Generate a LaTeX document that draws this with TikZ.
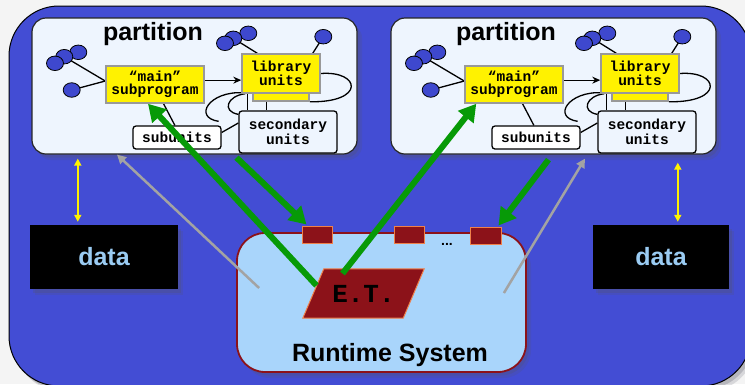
\documentclass[tikz,border=0pt]{standalone}
\usepackage{fontspec}
\setmainfont{Liberation Sans}
\setmonofont{Liberation Mono}
\usetikzlibrary{arrows.meta,calc,shapes.geometric}

\definecolor{pagebg}{HTML}{F4F4F4}
\definecolor{bgblue}{HTML}{434DD4}
\definecolor{partfill}{HTML}{EEF5FE}
\definecolor{bubblefill}{HTML}{3E48CE}
\definecolor{rtsfill}{HTML}{A9D5FB}
\definecolor{darkred}{HTML}{8C1219}
\definecolor{portedge}{HTML}{F0804A}
\definecolor{arrowgreen}{HTML}{079A07}
\definecolor{datatext}{HTML}{9ACBF2}
\definecolor{arrowgray}{HTML}{A3A3A3}
\definecolor{unitedge}{HTML}{999999}
\definecolor{shadowgray}{HTML}{555566}

\pgfdeclarelayer{back}
\pgfdeclarelayer{lines}
\pgfdeclarelayer{front}
\pgfsetlayers{back,lines,main,front}

% One partition: #1 name prefix, #2 horizontal offset, #3 title x position
\newcommand\drawpartition[3]{%
\begin{scope}[xshift=#2pt]
  \begin{pgfonlayer}{back}
    \node[partbox] (#1part) at (194.5,86) {};
  \end{pgfonlayer}
  \node[parttitle] (#1title) at (#3,34) {partition};
  \node[unitbox, minimum width=98pt, minimum height=37pt] (#1main) at (155,84.5) {“main”\\subprogram};
  \node[unitbox, minimum width=56pt, minimum height=23pt] (#1libs) at (281,89.5) {};
  \node[unitbox, minimum width=78pt, minimum height=39pt] (#1lib) at (281,73.5) {library\\units};
  \node[plainbox, minimum width=88pt, minimum height=23pt] (#1sub) at (177,137.5) {subunits};
  \node[plainbox, fill=partfill, minimum width=98pt, minimum height=42pt] (#1sec) at (288,132) {secondary\\units};
  \node[bubble] (#1c3) at (78.3,52.3) {};
  \node[bubble] (#1c2) at (64.3,56.7) {};
  \node[bubble] (#1c1) at (55,63.3) {};
  \node[bubble] (#1b) at (71.7,90) {};
  \node[bubble] (#1t3) at (248.3,33.3) {};
  \node[bubble] (#1t2) at (233.3,38.3) {};
  \node[bubble] (#1t1) at (225,43.3) {};
  \node[bubble] (#1ts) at (323.3,36.7) {};
\end{scope}
\begin{pgfonlayer}{lines}
  \draw[link] (#1c2.center) -- (#1main.176);
  \draw[link] (#1b.center) -- (#1main.176);
  \draw[link] (#1t2.center) -- ($(#1lib.north west)+(16,0)$);
  \draw[link] (#1ts.center) -- ($(#1lib.north east)+(-8,0)$);
  \draw[link,-{Stealth[length=8pt,width=7pt]}] (#1main.5) -- (#1main.5 -| #1lib.west);
  \draw[link] (#1lib.east) .. controls +(40,-3) and +(56,1) .. (#1libs.south east);
  \draw[link] ($(#1lib.south west)+(2,-1)$) .. controls +(-34,-2) and +(-26,-4) .. ($(#1sub.north east)+(-3,-4)$);
  \draw[link] ($(#1lib.south west)+(4,0)$) .. controls +(-18,2) and +(-17,-3) .. ($(#1sec.north west)+(0,4)$);
  \draw[link] ($(#1lib.south west)+(6,0)$) -- ($(#1lib.south west |- #1sec.north)+(6,0)$);
  \draw[link] ($(#1libs.south west)+(14,0)$) -- ($(#1libs.south west |- #1sec.north)+(14,0)$);
  \draw[link] ($(#1sub.east)+(0,-5)$) -- ($(#1sec.west)+(0,-9)$);
  \draw[link] (#1main.-66) -- (#1sub.100);
\end{pgfonlayer}}

\begin{document}
\begin{tikzpicture}[x=1pt,y=-1pt,
  softshadow/.style={
    preaction={fill=shadowgray, opacity=.18, transform canvas={xshift=5pt,yshift=-6pt}},
    preaction={fill=shadowgray, opacity=.25, transform canvas={xshift=3pt,yshift=-3.5pt}}},
  partbox/.style={softshadow, draw=black!85, line width=1.2pt, fill=partfill, rounded corners=14pt,
    minimum width=325pt, minimum height=136pt, inner sep=0pt},
  parttitle/.style={font=\bfseries\fontsize{25pt}{25pt}\selectfont, inner sep=0pt},
  unitbox/.style={fill=yellow, draw=unitedge, line width=1.5pt, inner sep=0pt, align=center,
    font=\ttfamily\bfseries\fontsize{14.5pt}{13pt}\selectfont},
  plainbox/.style={fill=white, draw=black, line width=1.3pt, rounded corners=3pt, inner sep=0pt,
    align=center, font=\ttfamily\bfseries\fontsize{14.5pt}{13pt}\selectfont},
  bubble/.style={ellipse, fill=bubblefill, draw=black, line width=0.8pt,
    minimum width=17pt, minimum height=14.5pt, inner sep=0pt},
  link/.style={draw=black, line width=1.3pt},
  greenarrow/.style={draw=arrowgreen, line width=6pt, -{Triangle[width=19pt,length=17pt]}},
  grayarrow/.style={draw=arrowgray, line width=2.5pt, -{Triangle[width=9pt,length=9pt]}},
  yarrow/.style={draw=yellow, line width=1.8pt, {Triangle[width=7pt,length=7pt]}-{Triangle[width=7pt,length=7pt]}},
  port/.style={fill=darkred, draw=portedge, line width=1pt, minimum height=17pt, inner sep=0pt},
  datanode/.style={softshadow, fill=black, text=datatext, minimum height=64pt, inner sep=0pt,
    font=\bfseries\fontsize{25pt}{25pt}\selectfont}]

\useasboundingbox (0,0) rectangle (745,384);

\begin{pgfonlayer}{back}
  \fill[pagebg] (0,0) rectangle (745,384);
  \draw[softshadow, fill=bgblue, draw=black, line width=1pt, rounded corners=50pt]
    (9,6) rectangle (751,386);
\end{pgfonlayer}

\drawpartition{L}{0}{153}
\drawpartition{R}{359}{147}

% runtime system
\begin{pgfonlayer}{back}
  \node[softshadow, fill=rtsfill, draw=darkred, line width=1.8pt, rounded corners=28pt,
    minimum width=289pt, minimum height=139pt, inner sep=0pt]
    (rts) at (381.5,302.5) {};
\end{pgfonlayer}
\node[font=\bfseries\fontsize{25pt}{25pt}\selectfont, inner sep=0pt] (rtstitle) at (390,355) {Runtime System};
\node[port, minimum width=30pt] (p1) at (317,234.5) {};
\node[port, minimum width=30pt] (p2) at (409,234.5) {};
\node[port, minimum width=31pt] (p3) at (485.5,235.5) {};
\node[font=\bfseries\fontsize{14pt}{14pt}\selectfont, inner sep=0pt] (dots) at (447,244) {...};

% executive task: text node with its parallelogram drawn beneath
\node[minimum width=100pt, minimum height=49pt, inner sep=0pt,
  font=\ttfamily\bfseries\fontsize{26pt}{26pt}\selectfont] (et) at (363.5,293.5) {E.T.};
\begin{pgfonlayer}{lines}
  \draw[fill=darkred, draw=portedge, line width=1pt]
    ($(et.south west)+(-10.5,0)$) -- ($(et.south east)+(-10.5,0)$)
    -- ($(et.north east)+(10.5,0)$) -- ($(et.north west)+(10.5,0)$) -- cycle;
\end{pgfonlayer}

% data stores
\node[datanode, minimum width=148pt] (Ldata) at (104,257) {data};
\node[datanode, minimum width=136pt] (Rdata) at (661,257) {data};

\begin{pgfonlayer}{front}
  \draw[yarrow] ($(Ldata.north west)+(48,-3)$) -- ($(Ldata.north west |- Lpart.south)+(48,4)$);
  \draw[yarrow] ($(Rdata.north west)+(85,-3)$) -- ($(Rdata.north west |- Rpart.south)+(85,8)$);
  \draw[grayarrow] ($(rts.west)+(23,-14.5)$) -- ($(Lpart.south)+(-77.5,0)$);
  \draw[grayarrow] ($(rts.east)+(-23,-9.5)$) -- ($(Rpart.south)+(31.5,4)$);
  \draw[greenarrow] ($(et.center)+(-47,-8)$) -- ($(Lmain.south)+(-7,0)$);
  \draw[greenarrow] ($(et.center)+(-21,-20)$) -- ($(Rmain.south west)+(12,0)$);
  \draw[greenarrow] ($(Lpart.south)+(42,3)$) -- ($(p1.north west)+(5,-1)$);
  \draw[greenarrow] ($(Rpart.south)+(-5,5)$) -- ($(p3.north east)+(-3,-1)$);
\end{pgfonlayer}
\end{tikzpicture}
\end{document}
